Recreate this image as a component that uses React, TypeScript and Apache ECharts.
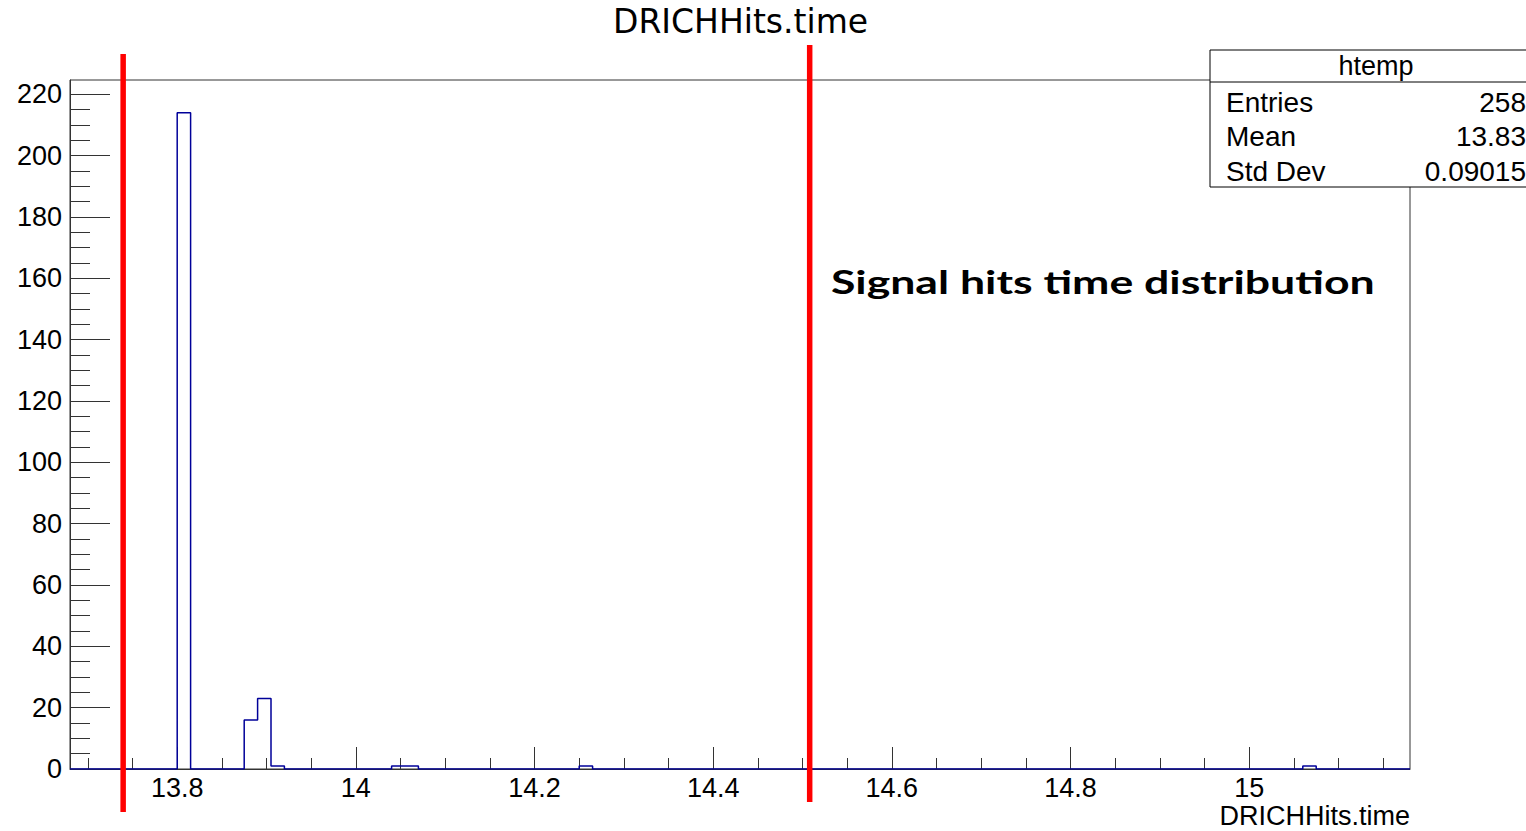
import React, { useEffect, useRef } from 'react';
import * as echarts from 'echarts';

// ---- data ----
const xMin = 13.68;
const xMax = 15.18;
const binWidth = 0.015;
const filledBinLowEdges = [13.8, 13.875, 13.89, 13.905, 14.04, 14.055, 14.25, 15.06];
const filledBinCounts = [214, 16, 23, 1, 1, 1, 1, 1];
const yMin = 0;
const yMax = 224.7;
const xMajorTicks = [13.8, 14, 14.2, 14.4, 14.6, 14.8, 15];
const xMinorTicks = [13.7, 13.75, 13.85, 13.9, 13.95, 14.05, 14.1, 14.15, 14.25, 14.3, 14.35, 14.45, 14.5, 14.55, 14.65, 14.7, 14.75, 14.85, 14.9, 14.95, 15.05, 15.1, 15.15];
const yMajorTicks = [0, 20, 40, 60, 80, 100, 120, 140, 160, 180, 200, 220];
const yMinorTicks = [5, 10, 15, 25, 30, 35, 45, 50, 55, 65, 70, 75, 85, 90, 95, 105, 110, 115, 125, 130, 135, 145, 150, 155, 165, 170, 175, 185, 190, 195, 205, 210, 215];
const cutLines = [13.7395, 14.508];
const statsTitle = 'htemp';
const statsLabels = ['Entries', 'Mean', 'Std Dev'];
const statsValues = ['258', '13.83', '0.09015'];
const chartTitle = 'DRICHHits.time';
const xAxisName = 'DRICHHits.time';
const annotation = 'Signal hits time distribution';

const FONT = '"Liberation Sans", Arial, Helvetica, sans-serif';
const AXIS_COLOR = '#333';

export default function App() {
  const ref = useRef<HTMLDivElement>(null);
  useEffect(() => {
    document.body.style.margin = '0';
    document.body.style.overflow = 'hidden';
    if (!ref.current) return;
    const chart = echarts.init(ref.current, undefined, { renderer: 'svg' });

    const nBins = Math.round((xMax - xMin) / binWidth);
    const counts: number[] = new Array(nBins).fill(0);
    filledBinLowEdges.forEach((e, k) => {
      counts[Math.round((e - xMin) / binWidth)] = filledBinCounts[k];
    });
    const pts: number[][] = counts.map((c, i) => [+(xMin + i * binWidth).toFixed(4), c]);
    pts.push([xMax, 0]);

    const tickLine = { color: AXIS_COLOR, width: 1 };

    chart.setOption({
      animation: false,
      title: {
        text: chartTitle,
        left: 613,
        top: 4.5,
        padding: 0,
        textStyle: { fontFamily: '"DejaVu Sans", sans-serif', fontSize: 33, fontWeight: 'normal', color: '#000' },
      },
      grid: {
        left: 70, right: 116, top: 80, bottom: 62,
        show: true, borderColor: AXIS_COLOR, borderWidth: 1,
        outerBoundsMode: 'none',
        containLabel: false,
      },
      xAxis: [
        {
          type: 'value', min: xMin, max: xMax, position: 'bottom',
          axisLine: { show: true, onZero: false, lineStyle: tickLine },
          axisTick: { show: true, inside: true, length: 22, customValues: xMajorTicks, lineStyle: tickLine },
          axisLabel: { customValues: xMajorTicks, fontSize: 27, fontFamily: FONT, color: '#000', margin: 5 },
          splitLine: { show: false },
          name: xAxisName,
          nameLocation: 'end',
          nameGap: 0,
          nameTextStyle: { align: 'right', verticalAlign: 'top', fontSize: 27, fontFamily: FONT, color: '#000', padding: [33, 0, 0, 0] },
        },
        {
          type: 'value', min: xMin, max: xMax, position: 'bottom',
          axisLine: { show: false, onZero: false },
          axisTick: { show: true, inside: true, length: 11, customValues: xMinorTicks, lineStyle: tickLine },
          axisLabel: { show: false },
          splitLine: { show: false },
        },
      ],
      yAxis: [
        {
          type: 'value', min: yMin, max: yMax, position: 'left',
          axisLine: { show: true, onZero: false, lineStyle: tickLine },
          axisTick: { show: true, inside: true, length: 40, customValues: yMajorTicks, lineStyle: tickLine },
          axisLabel: { customValues: yMajorTicks, fontSize: 27, fontFamily: FONT, color: '#000', margin: 8 },
          splitLine: { show: false },
        },
        {
          type: 'value', min: yMin, max: yMax, position: 'left',
          axisLine: { show: false, onZero: false },
          axisTick: { show: true, inside: true, length: 20, customValues: yMinorTicks, lineStyle: tickLine },
          axisLabel: { show: false },
          splitLine: { show: false },
        },
      ],
      series: [
        {
          type: 'line',
          xAxisIndex: 0,
          yAxisIndex: 0,
          data: pts,
          step: 'end',
          symbol: 'none',
          showSymbol: false,
          lineStyle: { color: '#000099', width: 1.5 },
          z: 5,
        },
      ],
    });

    // measure annotation width to match reference stretch
    let scaleX = 1;
    try {
      const ctx = document.createElement('canvas').getContext('2d');
      if (ctx) {
        ctx.font = 'bold 32px Lato';
        const w = ctx.measureText(annotation).width;
        if (w > 0) scaleX = 544 / w;
      }
    } catch (e) { /* ignore */ }

    const redX = cutLines.map((v) => chart.convertToPixel({ xAxisIndex: 0 }, v) as number);
    const redY = [[54, 812], [45, 802]];

    const graphics: any[] = [
      {
        type: 'rect', z: 10,
        shape: { x: 1210, y: 50, width: 340, height: 137 },
        style: { fill: '#fff', stroke: '#000', lineWidth: 1 },
      },
      {
        type: 'line', z: 11,
        shape: { x1: 1210, y1: 82, x2: 1550, y2: 82 },
        style: { stroke: '#000', lineWidth: 1 },
      },
      {
        type: 'text', z: 12, x: 1376, y: 66,
        style: { text: statsTitle, fontSize: 27, fontFamily: FONT, fill: '#000', align: 'center', verticalAlign: 'middle' },
      },
      ...statsLabels.map((t, i) => ({
        type: 'text', z: 12, x: 1226, y: 102 + i * 34.5,
        style: { text: t, fontSize: 28, fontFamily: FONT, fill: '#000', align: 'left', verticalAlign: 'middle' },
      })),
      ...statsValues.map((t, i) => ({
        type: 'text', z: 12, x: 1526, y: 102 + i * 34.5,
        style: { text: t, fontSize: 28, fontFamily: FONT, fill: '#000', align: 'right', verticalAlign: 'middle' },
      })),
      {
        type: 'text', z: 12, x: 831, y: 282, scaleX,
        style: { text: annotation, fontSize: 32, fontWeight: 'bold', fontFamily: 'Lato, sans-serif', fill: '#000', align: 'left', verticalAlign: 'middle' },
      },
      ...redX.map((px, i) => ({
        type: 'line', z: 20,
        shape: { x1: px, y1: redY[i][0], x2: px, y2: redY[i][1] },
        style: { stroke: '#ff0000', lineWidth: 5.5 },
      })),
    ];
    chart.setOption({ graphic: graphics });

    return () => chart.dispose();
  }, []);
  return <div ref={ref} style={{ width: 1526, height: 831 }} />;
}
